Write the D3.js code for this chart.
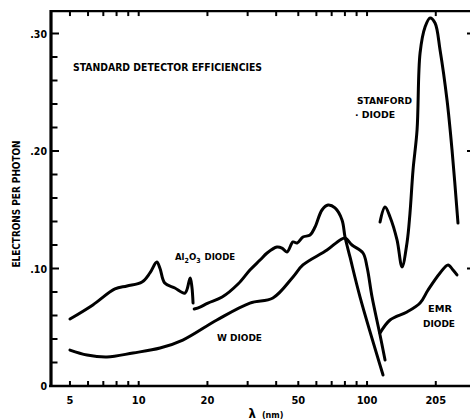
<!DOCTYPE html>
<html>
<head>
<meta charset="utf-8">
<script src="https://cdn.jsdelivr.net/npm/d3@7"></script>
<style>
  html, body { margin: 0; padding: 0; background: #fff; color: #000; }
  svg { display: block; }
  text { font-family: "Liberation Sans Narrow", "DejaVu Sans Condensed", "Liberation Sans", sans-serif; font-weight: bold; fill: #000; }
</style>
</head>
<body>
<svg id="chart" width="470" height="420"></svg>
<script>
// Detector efficiency curves: [wavelength (nm), electrons per photon]
const al2o3Short = [[5.0,.057],[6.3,.069],[7.87,.0826],[8.89,.0851],[10.34,.0885],[11.2,.0962],[12.0,.1055],[12.4,.100],[13.0,.0877],[14.4,.0834],[15.95,.0791],[16.8,.0919],[17.1,.0843],[17.3,.0706]];
const al2o3Long = [[17.5,.0655],[18.55,.0672],[20.1,.0706],[23.2,.0757],[27.3,.087],[30.7,.0987],[34.0,.1072],[36.5,.1132],[40.3,.1183],[42.4,.1174],[44.6,.114],[47.4,.1226],[49.4,.1217],[52.4,.1268],[56.3,.1285],[59.2,.1353],[63.5,.1498],[67.5,.154],[72.4,.1515],[77.7,.1413],[80.1,.1268],[84.2,.1098],[93.2,.0757],[117.5,.0094]];
const wDiode = [[5,.0306],[5.94,.0264],[7.26,.0247],[9.44,.0281],[12.4,.0323],[15.6,.0391],[22.0,.0562],[30.7,.0706],[38.7,.0749],[47.4,.0928],[52.4,.103],[66.8,.1157],[76.2,.1243],[80.1,.126],[85.9,.12],[96.0,.1132],[100,.1013],[105.2,.0757],[114,.0434],[119.9,.0221]];
const stanford = [[114,.1396],[119.9,.1523],[126.1,.1438],[135.3,.1243],[142.3,.1013],[149.6,.1217],[154.2,.1472],[159,.1838],[165.6,.2179],[170.7,.2834],[179.5,.3055],[188.8,.3132],[198.5,.3089],[208.8,.286],[224,.2434],[235.6,.2009],[250.2,.1387]];
const emr = [[114,.0451],[126.1,.0562],[149.6,.063],[170.7,.0706],[185,.0817],[208.8,.0962],[226.3,.103],[238,.0987],[247.7,.0945]];

// Axis ticks
const xTicks = [5,6,7,8,9,10,20,30,40,50,60,70,80,90,100,200];
const xLabeledTicks = [5,10,20,50,100,200];
const xTickLabels = ["5","10","20","50","100","205"];
const yTicks = [0,.02,.04,.06,.08,.10,.12,.14,.16,.18,.20,.22,.24,.26,.28,.30];
const yLabeledTicks = [0,.10,.20,.30];
const yTickLabels = ["0",".10",".20",".30"];
const yRightTicks = [.10,.20,.30];

const W = 470, H = 420;
const svg = d3.select("#chart");

const x = d3.scaleLog().domain([4.13, 274]).range([51, 467]);
const y = d3.scaleLinear().domain([0, 0.30]).range([386, 33.5]);
const x0 = x.range()[0];
const yTop = y(0.3191);
const yBase = y(0);

// Frame lines
svg.append("line").attr("x1", x0).attr("x2", x0)
  .attr("y1", yTop - 1).attr("y2", yBase + 1)
  .attr("stroke", "#000").attr("stroke-width", 3.2);
svg.append("line").attr("x1", x0 - 2).attr("x2", W)
  .attr("y1", yBase).attr("y2", yBase)
  .attr("stroke", "#000").attr("stroke-width", 2.6);
svg.append("line").attr("x1", x0 - 1).attr("x2", W)
  .attr("y1", yTop).attr("y2", yTop)
  .attr("stroke", "#000").attr("stroke-width", 2.2);

const ticks = svg.append("g").attr("stroke", "#000").attr("stroke-width", 2);

// Bottom and top ticks point inward
ticks.selectAll(".xb").data(xTicks).join("line")
  .attr("x1", d => x(d)).attr("x2", d => x(d))
  .attr("y1", yBase).attr("y2", yBase - 5);
ticks.selectAll(".xt").data(xTicks).join("line")
  .attr("x1", d => x(d)).attr("x2", d => x(d))
  .attr("y1", yTop).attr("y2", yTop + 5);

// Left ticks every .02
ticks.selectAll(".yl").data(yTicks).join("line")
  .attr("x1", x0).attr("x2", d => x0 + (yLabeledTicks.includes(d) ? 8 : 6.5))
  .attr("y1", d => y(d)).attr("y2", d => y(d));

// Right side short marks
ticks.selectAll(".yr").data(yRightTicks).join("line")
  .attr("x1", x.range()[1]).attr("x2", x.range()[1] + 5)
  .attr("y1", d => y(d)).attr("y2", d => y(d));

// Tick labels
svg.selectAll(".xlab").data(xLabeledTicks).join("text")
  .attr("x", d => x(d)).attr("y", yBase + 18)
  .attr("text-anchor", "middle").attr("font-size", 11)
  .text((d, i) => xTickLabels[i]);
svg.selectAll(".ylab").data(yLabeledTicks).join("text")
  .attr("x", x0 - 4).attr("y", d => y(d) + 4)
  .attr("text-anchor", "end").attr("font-size", 10.5)
  .text((d, i) => yTickLabels[i]);

// Curves
const line = d3.line().x(d => x(d[0])).y(d => y(d[1])).curve(d3.curveCatmullRom.alpha(0.5));
[al2o3Short, al2o3Long, wDiode, stanford, emr].forEach(s => {
  svg.append("path").datum(s).attr("d", line)
    .attr("fill", "none").attr("stroke", "#000").attr("stroke-width", 3)
    .attr("stroke-linejoin", "round").attr("stroke-linecap", "round");
});

// Titles
svg.append("text").attr("x", 73).attr("y", 71).attr("font-size", 10)
  .attr("textLength", 189).attr("lengthAdjust", "spacingAndGlyphs")
  .text("STANDARD DETECTOR EFFICIENCIES");

svg.append("text").attr("transform", "translate(20,204) rotate(-90)")
  .attr("text-anchor", "middle").attr("font-size", 10.5)
  .attr("textLength", 127).attr("lengthAdjust", "spacingAndGlyphs")
  .text("ELECTRONS PER PHOTON");

const xt = svg.append("text").attr("x", 266).attr("y", 418).attr("text-anchor", "middle").attr("font-size", 11);
xt.append("tspan").attr("font-size", 13).text("λ");
xt.append("tspan").attr("dx", 6).attr("font-size", 9).text("(nm)");

// Curve labels
const lbl = (t, cx, cy, w, fs) => svg.append("text").attr("x", cx).attr("y", cy)
  .attr("font-size", fs || 9.5).attr("textLength", w).attr("lengthAdjust", "spacingAndGlyphs").text(t);

lbl("STANFORD", 357, 104, 55);
lbl("· DIODE", 355, 118, 40);
lbl("W DIODE", 217, 341, 45);
lbl("EMR", 428, 312, 24);
lbl("DIODE", 423, 327, 32);

const al = svg.append("text").attr("x", 175).attr("y", 260).attr("font-size", 9.5);
al.append("tspan").text("Al");
al.append("tspan").attr("font-size", 7).attr("dy", 3).text("2");
al.append("tspan").attr("dy", -3).text("O");
al.append("tspan").attr("font-size", 7).attr("dy", 3).text("3");
al.append("tspan").attr("dy", -3).attr("dx", 4).text("DIODE");
</script>
</body>
</html>
